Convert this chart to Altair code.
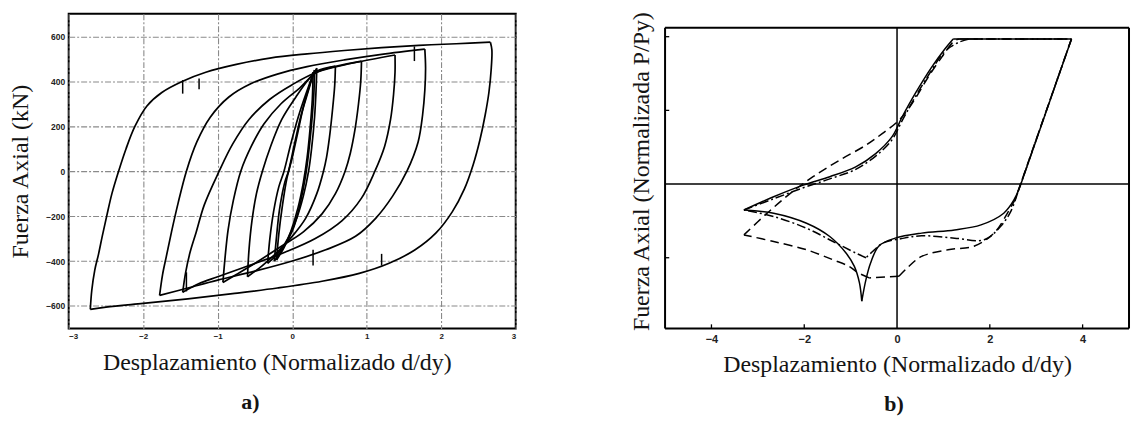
import altair as alt
import pandas as pd

# ---------------- Panel a): cyclic axial test, force in kN ----------------
# Each loop is split into its loading (up) and unloading (down) branch: (d/dy, kN)
OUTER_UP = [(-2.71, -615), (-2.69, -530), (-2.65, -440), (-2.60, -370), (-2.55, -290), (-2.49, -200),
            (-2.42, -100), (-2.33, 0), (-2.23, 100), (-2.11, 200), (-1.95, 290), (-1.75, 350),
            (-1.47, 400), (-1.16, 440), (-0.75, 475), (-0.30, 503), (0.2, 522), (0.7, 537),
            (1.2, 550), (1.7, 560), (2.2, 567), (2.66, 574)]
OUTER_DOWN = [(2.66, 574), (2.68, 540), (2.67, 450), (2.64, 350), (2.59, 250), (2.52, 140), (2.43, 30),
              (2.31, -80), (2.15, -180), (1.93, -275), (1.65, -350), (1.30, -410), (0.9, -455),
              (0.4, -490), (-0.2, -520), (-0.8, -545), (-1.4, -568), (-2.0, -588), (-2.5, -605),
              (-2.71, -615)]
L2_UP = [(-1.78, -553), (-1.74, -460), (-1.69, -380), (-1.62, -270), (-1.53, -140), (-1.42, 0),
         (-1.28, 130), (-1.10, 240), (-0.85, 330), (-0.55, 390), (-0.2, 432), (0.2, 465), (0.7, 495),
         (1.2, 520), (1.78, 543)]
L2_DOWN = [(1.78, 543), (1.79, 460), (1.78, 360), (1.75, 250), (1.69, 130), (1.54, 0), (1.35, -110),
           (1.12, -210), (0.85, -290), (0.45, -350), (0.0, -400), (-0.5, -445), (-1.0, -485),
           (-1.4, -520), (-1.78, -553)]
L3_UP = [(-1.47, -539), (-1.43, -450), (-1.37, -360), (-1.29, -273), (-1.18, -150), (-0.98, 0),
         (-0.80, 120), (-0.58, 230), (-0.30, 320), (0.0, 385), (0.33, 440), (0.8, 480), (1.38, 517)]
L3_DOWN = [(1.38, 517), (1.38, 440), (1.36, 340), (1.32, 230), (1.24, 110), (1.11, 0), (0.93, -120),
           (0.67, -220), (0.31, -300), (-0.09, -360), (-0.58, -420), (-1.0, -470), (-1.25, -500),
           (-1.47, -539)]
L4_UP = [(-0.93, -495), (-0.90, -380), (-0.86, -260), (-0.79, -130), (-0.69, 0), (-0.55, 110),
         (-0.38, 210), (-0.15, 300), (0.1, 370), (0.33, 440), (0.6, 468), (0.93, 490)]
L4_DOWN = [(0.93, 490), (0.92, 400), (0.89, 300), (0.84, 180), (0.78, 80), (0.71, 0), (0.58, -100),
           (0.40, -190), (0.15, -270), (-0.15, -335), (-0.5, -410), (-0.75, -460), (-0.93, -495)]
L5_UP = [(-0.60, -470), (-0.58, -350), (-0.54, -220), (-0.48, -100), (-0.40, 0), (-0.29, 110),
         (-0.14, 230), (0.05, 330), (0.2, 400), (0.33, 445), (0.58, 468)]
L5_DOWN = [(0.58, 468), (0.57, 380), (0.54, 270), (0.50, 150), (0.46, 60), (0.42, 0), (0.33, -100),
           (0.18, -210), (0.0, -290), (-0.2, -360), (-0.4, -420), (-0.60, -470)]
L6_UP = [(-0.33, -410), (-0.30, -300), (-0.25, -180), (-0.18, -70), (-0.11, 0), (-0.02, 120),
         (0.08, 240), (0.18, 340), (0.27, 420), (0.33, 458)]
L6_DOWN = [(0.33, 458), (0.32, 360), (0.30, 240), (0.26, 100), (0.22, 0), (0.15, -110), (0.06, -210),
           (-0.06, -300), (-0.2, -370), (-0.33, -410)]
L7_UP = [(-0.24, -400), (-0.21, -290), (-0.17, -170), (-0.10, -50), (-0.05, 0), (0.03, 120),
         (0.12, 250), (0.21, 350), (0.30, 450)]
L7_DOWN = [(0.30, 450), (0.29, 340), (0.26, 210), (0.22, 80), (0.18, -20), (0.11, -140), (0.02, -250),
           (-0.1, -330), (-0.24, -400)]
L8_UP = [(-0.21, -395), (-0.18, -280), (-0.13, -150), (-0.07, -30), (0.0, 60), (0.08, 180),
         (0.16, 300), (0.24, 390), (0.28, 440)]
L8_DOWN = [(0.28, 440), (0.27, 320), (0.24, 190), (0.20, 60), (0.15, -50), (0.08, -160), (-0.02, -270),
           (-0.11, -340), (-0.21, -395)]
# short load drops recorded by the actuator: (d/dy, kN from, kN to)
SPIKES = [(-1.47, 405, 345), (-1.25, 412, 365), (1.64, 555, 490), (1.20, -368, -420),
          (0.28, -350, -420), (-1.42, -450, -535)]

A_X_TICKS = [-3, -2, -1, 0, 1, 2, 3]
A_Y_TICKS = [-600, -400, -200, 0, 200, 400, 600]

# ---------------- Panel b): normalized response, three models ----------------
B_SOLID = {
    "up": [(-3.30, -0.176), (-2.66, -0.086), (-2.02, -0.007), (-1.45, 0.05), (-0.89, 0.117),
           (-0.46, 0.207), (-0.11, 0.32), (0.11, 0.455), (0.39, 0.613), (0.74, 0.79), (1.03, 0.917),
           (1.21, 0.985)],
    "top": [(1.21, 0.985), (3.76, 0.985)],
    "steep": [(3.76, 0.985), (2.67, 0.0)],
    "down": [(2.67, 0.0), (2.52, -0.108), (2.30, -0.198), (1.81, -0.277), (1.24, -0.311),
             (0.53, -0.333), (-0.04, -0.367), (-0.39, -0.42), (-0.57, -0.536), (-0.67, -0.649),
             (-0.76, -0.795)],
    "back": [(-0.76, -0.795), (-0.81, -0.671), (-0.92, -0.559), (-1.10, -0.468), (-1.45, -0.356),
             (-1.95, -0.266), (-2.66, -0.198), (-3.30, -0.176)],
}
B_DASHDOT = {
    "up": [(-3.30, -0.176), (-2.66, -0.10), (-2.02, -0.025), (-1.45, 0.035), (-0.89, 0.10),
           (-0.46, 0.19), (-0.11, 0.30), (0.11, 0.43), (0.39, 0.59), (0.74, 0.77), (0.95, 0.87),
           (1.15, 0.93), (1.35, 0.965), (1.55, 0.985)],
    "top": [(1.55, 0.985), (3.76, 0.985)],
    "steep": [(3.76, 0.985), (2.60, -0.06)],
    "down": [(2.60, -0.06), (2.45, -0.187), (2.23, -0.288), (1.88, -0.378), (1.24, -0.367),
             (0.53, -0.351), (0.1, -0.37), (-0.30, -0.40), (-0.50, -0.45), (-0.67, -0.50)],
    "back": [(-0.67, -0.50), (-0.89, -0.468), (-1.38, -0.39), (-1.95, -0.30), (-2.66, -0.22),
             (-3.30, -0.176)],
}
B_DASHED = {
    "up": [(-3.30, -0.345), (-2.80, -0.198), (-2.30, -0.063), (-1.81, 0.05), (-1.24, 0.162),
           (-0.67, 0.264), (-0.32, 0.342), (0.04, 0.432), (0.32, 0.545), (0.67, 0.725), (0.96, 0.86),
           (1.24, 0.973), (1.35, 0.985)],
    "top": [(1.35, 0.985), (3.76, 0.985)],
    "steep": [(3.76, 0.985), (2.55, -0.10)],
    "down": [(2.55, -0.10), (2.38, -0.198), (2.09, -0.333), (1.67, -0.42), (1.10, -0.446),
             (0.53, -0.491), (0.25, -0.56), (0.04, -0.626)],
    "flat": [(0.04, -0.626), (-0.60, -0.637)],
    "back": [(-0.60, -0.637), (-0.85, -0.60), (-1.03, -0.559), (-1.38, -0.514), (-1.95, -0.446),
             (-2.66, -0.39), (-3.30, -0.345)],
}
B_X_LIM = [-5, 5]
B_Y_LIM = [-0.98, 1.061]
B_Y_TOP = 1.155
B_X_TICKS = [-4, -2, 0, 2, 4]
B_Y_TICKS = [-0.5, 0.5, 1.0]

SERIF = "Liberation Serif"
INK = "#141414"
TITLE_SIZE = 24

# ---------------- tables ----------------
rows_a = []
for name, pts in [("outer_up", OUTER_UP), ("outer_down", OUTER_DOWN), ("l2_up", L2_UP),
                  ("l2_down", L2_DOWN), ("l3_up", L3_UP), ("l3_down", L3_DOWN), ("l4_up", L4_UP),
                  ("l4_down", L4_DOWN), ("l5_up", L5_UP), ("l5_down", L5_DOWN), ("l6_up", L6_UP),
                  ("l6_down", L6_DOWN), ("l7_up", L7_UP), ("l7_down", L7_DOWN), ("l8_up", L8_UP),
                  ("l8_down", L8_DOWN)]:
    for i, (d, p) in enumerate(pts):
        rows_a.append({"d": d, "p": p, "branch": name, "ord": i})
df_a = pd.DataFrame(rows_a)
df_spk = pd.DataFrame([{"d": d, "p": p1, "p2": p2} for d, p1, p2 in SPIKES])

rows_b = []
for style, model in [("solid", B_SOLID), ("dashdot", B_DASHDOT), ("dashed", B_DASHED)]:
    for seg, pts in model.items():
        for i, (d, p) in enumerate(pts):
            rows_b.append({"db": d, "pb": p, "branch": style + "_" + seg, "style": style, "ord": i})
df_b = pd.DataFrame(rows_b)

x0, x1 = B_X_LIM
y0, y1 = B_Y_LIM
frame_b = pd.DataFrame([
    {"db": x0, "db2": x1, "pb": y0, "pb2": y0},
    {"db": x0, "db2": x1, "pb": y1, "pb2": y1},
    {"db": x0, "db2": x0, "pb": y0, "pb2": y1},
    {"db": x1, "db2": x1, "pb": y0, "pb2": y1},
])
cross_b = pd.DataFrame([
    {"db": 0, "db2": 0, "pb": y0, "pb2": y1},
    {"db": x0, "db2": x1, "pb": 0, "pb2": 0},
])
ticks_b = pd.DataFrame(
    [{"db": t, "db2": t, "pb": y0, "pb2": y0 + 0.028} for t in B_X_TICKS if t != 0]
    + [{"db": x0, "db2": x0 + 0.09, "pb": t, "pb2": t} for t in B_Y_TICKS]
)

# ---------------- panel a ----------------
xa = alt.X("d:Q", scale=alt.Scale(domain=[-3, 3], nice=False, zero=False),
           axis=alt.Axis(values=A_X_TICKS, format="d", title="Desplazamiento (Normalizado d/dy)",
                         titleFont=SERIF, titleFontSize=TITLE_SIZE, titleFontWeight="normal",
                         titleColor=INK, titlePadding=10, titleX=209,
                         labelFont="Liberation Sans", labelFontSize=8, labelFontWeight="bold",
                         labelColor="#222", labelPadding=4, tickSize=0, domain=False,
                         grid=True, gridColor="#8a8a8a", gridDash=[6, 2, 2, 2], gridWidth=1.1))
ya = alt.Y("p:Q", scale=alt.Scale(domain=[-700, 700], nice=False, zero=False),
           axis=alt.Axis(values=A_Y_TICKS, title="Fuerza Axial (kN)",
                         titleFont=SERIF, titleFontSize=TITLE_SIZE, titleFontWeight="normal",
                         titleColor=INK, titlePadding=13,
                         labelFont="Liberation Sans", labelFontSize=8.5, labelFontWeight="bold",
                         labelColor="#222", labelPadding=4, tickSize=0, domain=False,
                         grid=True, gridColor="#8a8a8a", gridDash=[6, 2, 2, 2], gridWidth=1.1))

loops_a = alt.Chart(df_a).mark_line(color="black", strokeWidth=1.7, interpolate="catmull-rom").encode(
    x=xa, y=ya, detail="branch:N", order="ord:Q")
spikes_a = alt.Chart(df_spk).mark_rule(color="black", strokeWidth=1.5).encode(
    x="d:Q", y="p:Q", y2="p2:Q")

panel_a = alt.layer(loops_a, spikes_a).properties(
    width=449, height=316,
    view=alt.ViewBackground(stroke="black", strokeWidth=2),
    title=alt.TitleParams("a)", orient="bottom", font=SERIF, fontSize=22, fontWeight="bold",
                          color=INK, frame="group", anchor="middle", dx=-42, offset=18),
)

# ---------------- panel b ----------------
xb = alt.X("db:Q", scale=alt.Scale(domain=B_X_LIM, nice=False, zero=False),
           axis=alt.Axis(values=B_X_TICKS, title="Desplazamiento (Normalizado d/dy)",
                         titleFont=SERIF, titleFontSize=TITLE_SIZE, titleFontWeight="normal",
                         titleColor=INK, titlePadding=8,
                         labelFont="Liberation Sans", labelFontSize=11, labelFontWeight="bold",
                         labelColor="#222", labelPadding=5, tickSize=0, domain=False, grid=False))
yb = alt.Y("pb:Q", scale=alt.Scale(domain=[y0, B_Y_TOP], nice=False, zero=False),
           axis=alt.Axis(title="Fuerza Axial (Normalizada P/Py)", labels=False, ticks=False,
                         domain=False, grid=False, titleFont=SERIF, titleFontSize=TITLE_SIZE,
                         titleFontWeight="normal", titleColor=INK, titlePadding=12))

frame_layer = alt.Chart(frame_b).mark_rule(color="black", strokeWidth=2).encode(
    x=xb, x2="db2:Q", y=yb, y2="pb2:Q")
cross_layer = alt.Chart(cross_b).mark_rule(color="black", strokeWidth=1.5).encode(
    x="db:Q", x2="db2:Q", y="pb:Q", y2="pb2:Q")
tick_layer = alt.Chart(ticks_b).mark_rule(color="black", strokeWidth=1.3).encode(
    x="db:Q", x2="db2:Q", y="pb:Q", y2="pb2:Q")


def curve(style, dash):
    kw = {"strokeDash": dash} if dash else {}
    return alt.Chart(df_b).transform_filter(alt.datum.style == style).mark_line(
        color="black", strokeWidth=1.5, interpolate="catmull-rom", **kw).encode(
        x="db:Q", y="pb:Q", detail="branch:N", order="ord:Q")


panel_b = alt.layer(frame_layer, cross_layer, tick_layer,
                    curve("dashed", [9, 5]), curve("dashdot", [9, 3, 2, 3]), curve("solid", None)
                    ).properties(
    width=466, height=316,
    view=alt.ViewBackground(stroke="transparent"),
    title=alt.TitleParams("b)", orient="bottom", font=SERIF, fontSize=22, fontWeight="bold",
                          color=INK, frame="group", anchor="middle", dx=-3, offset=18),
)

chart = alt.hconcat(panel_a, panel_b, spacing=111).resolve_scale(
    x="independent", y="independent"
).properties(
    padding={"left": 7, "top": 9, "right": 0, "bottom": 0},
    background="white",
)

chart.save("out.html", embed_options={"renderer": "svg", "actions": False})
